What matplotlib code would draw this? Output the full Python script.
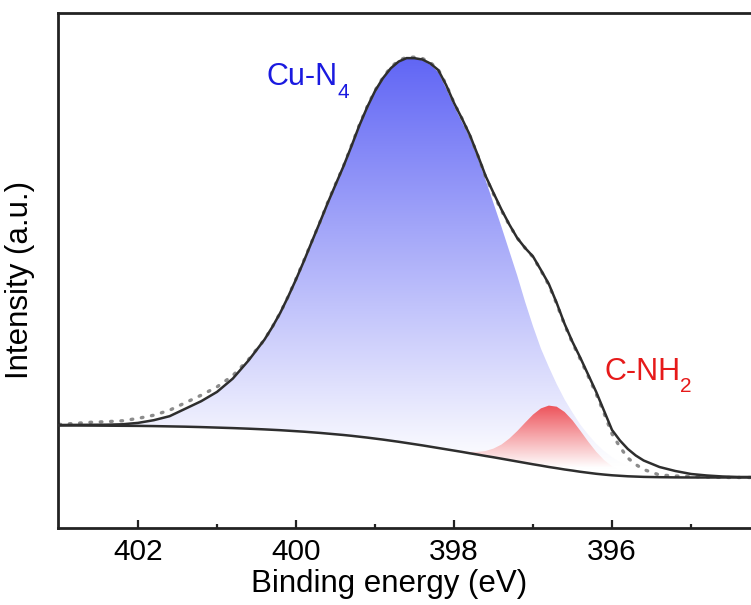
import numpy as np
import matplotlib
matplotlib.use('Agg')
import matplotlib.pyplot as plt
from matplotlib.ticker import FixedLocator

plt.rcParams['font.family'] = ['Liberation Sans', 'DejaVu Sans']

# ---------------- data ----------------
binding_energy = [403.0, 402.8, 402.6, 402.4, 402.2, 402.0, 401.8, 401.6, 401.4, 401.2,
                  401.0, 400.8, 400.6, 400.4,
                  400.3, 400.2, 400.1, 400.0, 399.9, 399.8, 399.7, 399.6, 399.5, 399.4,
                  399.3, 399.2, 399.1, 399.0, 398.9, 398.8, 398.7, 398.6, 398.5, 398.4,
                  398.3, 398.2, 398.1, 398.0, 397.9, 397.8, 397.7, 397.6, 397.5, 397.4,
                  397.3, 397.2, 397.1, 397.0, 396.9, 396.8, 396.7, 396.6, 396.5, 396.4,
                  396.3, 396.2, 396.1, 396.0, 395.9, 395.8, 395.7, 395.6,
                  395.4, 395.2, 395.0, 394.8, 394.6, 394.4, 394.2]

raw_data = [103.5, 104.6, 105.7, 106.3, 107.2, 109.6, 112.8, 117.8, 125.3, 132.8,
            141.1, 152.4, 168.6, 188.3,
            201.0, 215.1, 231.3, 249.1, 267.5, 286.3, 305.3, 325.3, 343.8, 361.6,
            382.0, 402.7, 421.2, 437.5, 450.3, 460.8, 467.5, 470.9, 470.8, 469.5,
            465.5, 458.5, 443.5, 425.0, 409.5, 392.5, 372.5, 351.0, 334.0, 317.5,
            303.0, 290.0, 280.0, 271.0, 257.5, 243.0, 224.0, 203.0, 185.0, 168.5,
            151.5, 134.0, 114.5, 94.0, 81.0, 70.0, 63.5, 58.5,
            53.0, 52.0, 51.5, 51.0, 50.5, 50.5, 50.5]

envelope = [103.0, 103.1, 103.2, 103.3, 103.7, 105.1, 107.8, 111.8, 119.3, 126.8,
            136.1, 149.4, 167.6, 188.3,
            201.0, 215.1, 231.3, 248.6, 267.0, 286.3, 305.3, 324.8, 343.3, 361.6,
            381.5, 402.2, 420.7, 437.0, 449.8, 459.8, 466.5, 469.9, 469.8, 468.5,
            464.5, 458.0, 443.0, 425.0, 409.5, 393.0, 373.0, 352.0, 335.0, 318.5,
            303.5, 290.0, 280.0, 271.5, 258.0, 244.0, 225.0, 204.0, 186.0, 170.0,
            153.0, 136.0, 117.0, 98.0, 87.5, 79.0, 72.5, 67.5,
            61.0, 57.0, 54.0, 52.5, 51.5, 51.0, 51.0]

background = [102.5, 102.5, 102.4, 102.3, 102.2, 102.1, 101.9, 101.6, 101.3, 100.9,
              100.4, 99.9, 99.3, 98.6,
              98.2, 97.8, 97.3, 96.8, 96.3, 95.7, 95.1, 94.4, 93.7, 93.0,
              92.2, 91.3, 90.4, 89.4, 88.4, 87.3, 86.2, 85.0, 83.8, 82.6,
              81.3, 80.0, 78.7, 77.4, 76.1, 74.7, 73.4, 72.0, 70.7, 69.3,
              67.9, 66.5, 65.1, 63.7, 62.4, 61.0, 59.8, 58.5, 57.4, 56.2,
              55.2, 54.2, 53.4, 52.7, 52.2, 51.7, 51.4, 51.1,
              50.8, 50.6, 50.5, 50.5, 50.5, 50.5, 50.5]

cu_n4 = [0.5, 0.6, 0.8, 1.0, 1.5, 3.0, 5.9, 10.2, 18.0, 25.9,
         35.7, 49.5, 68.3, 89.7,
         102.8, 117.3, 134.0, 151.8, 170.7, 190.6, 210.2, 230.4, 249.6, 268.6,
         289.3, 310.9, 330.3, 347.6, 361.4, 372.5, 380.3, 384.9, 386.0, 385.0,
         382.0, 376.0, 361.0, 345.0, 330.0, 316.0, 297.0, 276.0, 254.0, 232.0,
         209.0, 186.0, 161.0, 138.0, 117.0, 100.0, 84.0, 70.0, 58.0, 47.0,
         38.0, 30.0, 23.5, 18.0, 13.5, 10.0, 7.5, 5.5,
         3.0, 1.6, 0.8, 0.4, 0.2, 0.1, 0.05]

c_nh2 = [0.0, 0.0, 0.0, 0.0, 0.0, 0.0, 0.0, 0.0, 0.0, 0.0,
         0.0, 0.0, 0.0, 0.0,
         0.0, 0.0, 0.0, 0.0, 0.0, 0.0, 0.0, 0.0, 0.0, 0.0,
         0.0, 0.0, 0.0, 0.0, 0.0, 0.0, 0.0, 0.0, 0.0, 0.0,
         0.0, 0.0, 0.0, 0.3, 0.6, 1.3, 2.7, 5.0, 8.7, 14.1,
         21.5, 30.4, 40.2, 49.7, 57.2, 61.4, 61.5, 57.5, 50.2, 40.9,
         31.0, 22.0, 14.5, 9.0, 5.2, 2.8, 1.4, 0.6,
         0.1, 0.0, 0.0, 0.0, 0.0, 0.0, 0.0]

x_ticks = [402, 400, 398, 396]
x_tick_labels = ['402', '400', '398', '396']
x_minor_ticks = [401, 399, 397, 395]

# ---------------- figure ----------------
fig = plt.figure(figsize=(7.51, 6.05), dpi=100)
ax = fig.add_axes([0.0772, 0.1273, 0.9228, 0.8512])

be = np.array(binding_energy)
bg = np.array(background)
cu_top = bg + np.array(cu_n4)
nh_top = bg + np.array(c_nh2)


def gradient_fill(ax, x, low, high, color, h_white, z):
    poly = ax.fill_between(x, low, high, facecolor='none', edgecolor='none', zorder=z)
    h_top = float(np.max(high))
    n = 512
    hs = np.linspace(0, h_top, n)
    t = np.clip((hs - h_white) / (h_top - h_white), 0, 1)
    c = np.array(color)
    rgb = (1 - t)[:, None] * np.ones(3)[None, :] + t[:, None] * c[None, :]
    img = rgb[:, None, :]
    im = ax.imshow(img, extent=(x.min(), x.max(), 0, h_top), origin='lower',
                   aspect='auto', zorder=z, interpolation='bilinear')
    path = poly.get_paths()[0]
    im.set_clip_path(path, transform=ax.transData)
    return im


gradient_fill(ax, be, bg, cu_top, (0.38, 0.40, 0.96), 62.0, 1)
gradient_fill(ax, be, bg, nh_top, (0.93, 0.32, 0.35), 60.0, 1.5)

ax.plot(be, raw_data, color='#8c8c8c', lw=2.4, linestyle=(0, (0.5, 2.6)),
        dash_capstyle='round', zorder=2)
ax.plot(be, envelope, color='#2e2e2e', lw=1.8, zorder=3, solid_joinstyle='round')
ax.plot(be, background, color='#2e2e2e', lw=1.8, zorder=3, solid_joinstyle='round')

blue_txt = (0.1, 0.1, 0.88)
red_txt = (0.9, 0.1, 0.1)
ax.text(400.37, 443.0, 'Cu-N', color=blue_txt, fontsize=22, ha='left', va='baseline')
ax.text(399.48, 430.0, '4', color=blue_txt, fontsize=15, ha='left', va='baseline')
ax.text(396.09, 148.0, 'C-NH', color=red_txt, fontsize=22, ha='left', va='baseline')
ax.text(395.14, 136.0, '2', color=red_txt, fontsize=15, ha='left', va='baseline')

ax.set_xlim(403.013, 394.241)
ax.set_ylim(0, 515)

ax.set_xticks(x_ticks)
ax.set_xticklabels(x_tick_labels)
ax.xaxis.set_minor_locator(FixedLocator(x_minor_ticks))
ax.tick_params(axis='x', which='major', direction='in', length=5.5, width=1.6,
               labelsize=21.5, pad=7, color='#222222')
ax.tick_params(axis='x', which='minor', direction='in', length=3, width=1.6,
               color='#222222')
ax.set_yticks([])

for side in ['left', 'bottom', 'top']:
    ax.spines[side].set_linewidth(2.0)
    ax.spines[side].set_color('#222222')
ax.spines['right'].set_visible(False)

ax.set_xlabel('Binding energy (eV)', fontsize=22.5)
ax.xaxis.set_label_coords(0.4776, -0.08)
ax.set_ylabel('Intensity (a.u.)', fontsize=22.5)
ax.yaxis.set_label_coords(-0.033, 0.4816)

fig.savefig('out.png', dpi=100)
